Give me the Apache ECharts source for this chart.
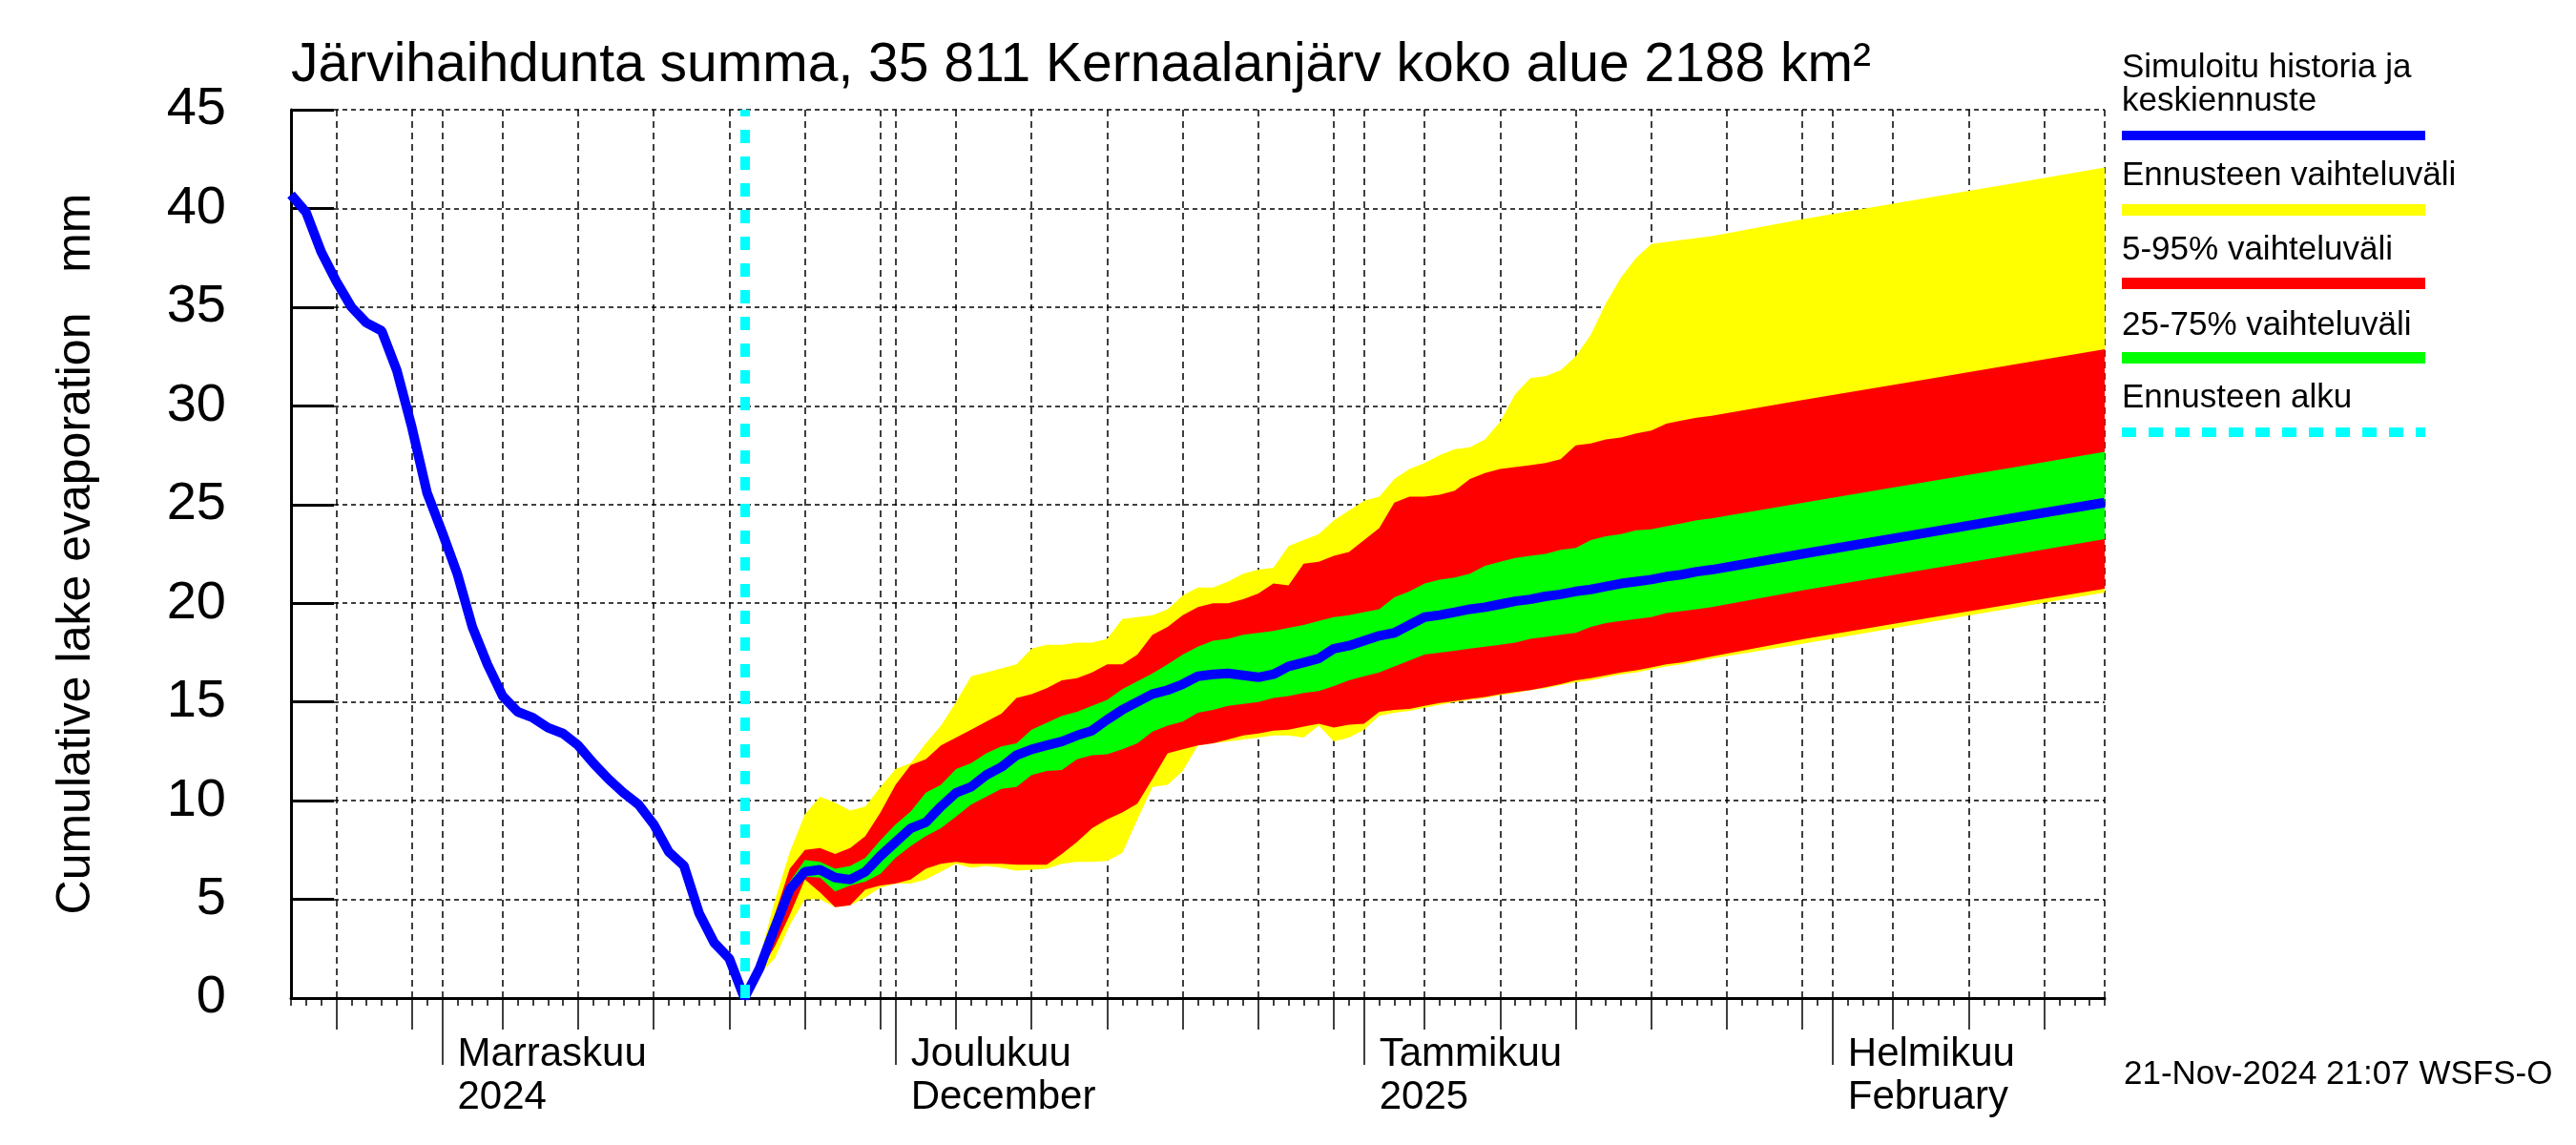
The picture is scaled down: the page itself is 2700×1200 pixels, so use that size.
<!DOCTYPE html>
<html><head><meta charset="utf-8">
<script src="https://cdn.jsdelivr.net/npm/echarts@6/dist/echarts.min.js"></script>
<style>html,body{margin:0;padding:0;background:#fff}#c{width:2700px;height:1200px}</style>
</head><body><div id="c"></div>
<script>
// ---------- texts ----------
const titleText = 'Järvihaihdunta summa, 35 811 Kernaalanjärv koko alue 2188 km²';
const yAxisName = 'Cumulative lake evaporation   mm';
const stampText = '21-Nov-2024 21:07 WSFS-O';
const legendTexts = ['Simuloitu historia ja\nkeskiennuste', 'Ennusteen vaihteluväli', '5-95% vaihteluväli', '25-75% vaihteluväli', 'Ennusteen alku'];

// ---------- axes ----------
const axisStart = '2024-10-22';
const axisEnd = '2025-02-19';
const monthLabels = {
  '2024-11-01': 'Marraskuu\n2024',
  '2024-12-01': 'Joulukuu\nDecember',
  '2025-01-01': 'Tammikuu\n2025',
  '2025-02-01': 'Helmikuu\nFebruary'
};
const gridDays = [1, 5, 10, 15, 20, 25, 30];
const yMin = 0, yMax = 45, yStep = 5;

// ---------- history (daily from histStart) ----------
const histStart = '2024-10-22';
const histValues = [40.7, 39.8, 37.8, 36.3, 35.0, 34.2, 33.8, 31.8, 28.9, 25.6,
  23.6, 21.5, 18.8, 16.9, 15.3, 14.5, 14.2, 13.7, 13.4, 12.8,
  11.9, 11.1, 10.4, 9.8, 8.8, 7.4, 6.7, 4.3, 2.8, 2.0, 0];

// ---------- forecast: daily values from forecastStart, then tail dates ----------
const forecastStart = '2024-11-21';
const forecastDailyCount = 65;
const forecastTailDates = ['2025-01-30', '2025-02-06', '2025-02-13', '2025-02-19'];

const fcMedian = [0, 1.5, 3.55, 5.5, 6.4, 6.5, 6.1, 6.0, 6.4, 7.2,
  7.9, 8.6, 8.9, 9.7, 10.4, 10.7, 11.3, 11.7, 12.3, 12.6,
  12.8, 13.0, 13.3, 13.55, 14.1, 14.6, 15.0, 15.4, 15.6, 15.9,
  16.3, 16.4, 16.45, 16.35, 16.25, 16.4, 16.8, 17.0, 17.2, 17.7,
  17.85, 18.1, 18.35, 18.5, 18.9, 19.3, 19.4, 19.55, 19.7, 19.8,
  19.95, 20.1, 20.2, 20.35, 20.45, 20.6, 20.7, 20.85, 21.0, 21.1,
  21.2, 21.35, 21.45, 21.6, 21.7,
  22.5, 23.41, 24.33, 25.1];

const fcMaxHigh = [0, 2.0, 4.9, 7.4, 9.3, 10.2, 9.9, 9.5, 9.7, 10.7,
  11.6, 11.9, 12.9, 13.8, 15.0, 16.3, 16.5, 16.7, 16.9, 17.7,
  17.9, 17.9, 18.0, 18.0, 18.2, 19.2, 19.3, 19.4, 19.7, 20.4,
  20.8, 20.8, 21.1, 21.5, 21.7, 21.8, 22.9, 23.2, 23.5, 24.2,
  24.7, 25.2, 25.4, 26.3, 26.8, 27.1, 27.5, 27.8, 27.9, 28.3,
  29.2, 30.6, 31.4, 31.5, 31.8, 32.5, 33.6, 35.2, 36.5, 37.5,
  38.2, 38.3, 38.4, 38.5, 38.6,
  39.45, 40.37, 41.28, 42.07];

const fcMinLow = [0, 1.2, 2.0, 3.7, 5.0, 5.0, 4.6, 4.7, 5.1, 5.6,
  5.8, 5.8, 6.0, 6.4, 6.8, 6.6, 6.7, 6.6, 6.45, 6.5,
  6.55, 6.8, 6.9, 6.9, 6.95, 7.35, 9.05, 10.7, 10.8, 11.5,
  12.8, 12.9, 13.0, 13.1, 13.2, 13.3, 13.3, 13.2, 13.8, 13.0,
  13.2, 13.6, 14.3, 14.45, 14.55, 14.7, 14.85, 15.0, 15.1, 15.2,
  15.35, 15.45, 15.6, 15.7, 15.85, 16.0, 16.1, 16.25, 16.4, 16.5,
  16.65, 16.8, 16.9, 17.05, 17.2,
  17.95, 18.86, 19.77, 20.54];

const fcP95 = [0, 1.6, 4.2, 6.55, 7.5, 7.6, 7.3, 7.6, 8.2, 9.4,
  10.8, 11.8, 12.1, 12.8, 13.2, 13.6, 14.0, 14.4, 15.2, 15.4,
  15.7, 16.1, 16.2, 16.5, 16.9, 16.9, 17.4, 18.4, 18.8, 19.4,
  19.8, 20.0, 20.0, 20.2, 20.5, 21.0, 20.9, 22.0, 22.1, 22.4,
  22.6, 23.2, 23.8, 25.1, 25.4, 25.4, 25.5, 25.7, 26.3, 26.6,
  26.8, 26.9, 27.0, 27.1, 27.3, 28.0, 28.1, 28.3, 28.4, 28.6,
  28.75, 29.1, 29.25, 29.4, 29.5,
  30.29, 31.19, 32.09, 32.87];

const fcP5 = [0, 1.3, 2.6, 4.2, 6.0, 5.35, 4.6, 4.7, 5.5, 5.7,
  5.8, 6.0, 6.55, 6.8, 6.9, 6.8, 6.8, 6.8, 6.75, 6.75,
  6.75, 7.3, 7.9, 8.6, 9.05, 9.4, 9.85, 11.1, 12.4, 12.6,
  12.8, 12.9, 13.1, 13.3, 13.4, 13.55, 13.6, 13.75, 13.9, 13.7,
  13.85, 13.9, 14.5, 14.6, 14.65, 14.8, 14.95, 15.05, 15.15, 15.25,
  15.4, 15.5, 15.6, 15.75, 15.9, 16.1, 16.2, 16.35, 16.5, 16.6,
  16.75, 16.9, 17.0, 17.15, 17.3,
  18.18, 19.08, 19.97, 20.74];

const fcP75 = [0, 1.6, 4.0, 5.9, 7.0, 6.9, 6.55, 6.7, 7.1, 8.0,
  8.8, 9.45, 10.4, 10.8, 11.6, 11.9, 12.4, 12.75, 12.9, 13.6,
  13.95, 14.3, 14.5, 14.8, 15.1, 15.65, 16.05, 16.45, 16.9, 17.4,
  17.8, 18.1, 18.2, 18.4, 18.5, 18.6, 18.75, 18.9, 19.1, 19.3,
  19.4, 19.55, 19.7, 20.3, 20.6, 21.0, 21.2, 21.3, 21.5, 21.9,
  22.1, 22.3, 22.4, 22.5, 22.7, 22.8, 23.2, 23.4, 23.5, 23.7,
  23.75, 23.9, 24.05, 24.2, 24.3,
  25.08, 25.99, 26.89, 27.67];

const fcP25 = [0, 1.4, 3.3, 5.1, 6.15, 6.1, 5.4, 5.7, 5.9, 6.3,
  7.1, 7.7, 8.2, 8.6, 9.2, 9.8, 10.2, 10.6, 10.7, 11.3,
  11.5, 11.55, 12.1, 12.3, 12.35, 12.6, 12.9, 13.5, 13.8, 14.0,
  14.45, 14.6, 14.8, 14.9, 15.0, 15.2, 15.3, 15.45, 15.55, 15.8,
  16.1, 16.3, 16.5, 16.8, 17.1, 17.4, 17.5, 17.6, 17.7, 17.8,
  17.9, 18.0, 18.2, 18.3, 18.4, 18.5, 18.8, 19.0, 19.1, 19.2,
  19.3, 19.5, 19.6, 19.7, 19.8,
  20.65, 21.56, 22.46, 23.25];

// ---------- colours ----------
const colBlue = '#0000FF', colYellow = '#FFFF00', colRed = '#FF0000', colGreen = '#00FF00', colCyan = '#00FFFF';
const FONT = '"Liberation Sans", Arial, Helvetica, sans-serif';

// ---------- helpers ----------
function addDays(s, n) {
  const d = new Date(s + 'T00:00:00Z');
  d.setUTCDate(d.getUTCDate() + n);
  return d.toISOString().slice(0, 10);
}
const categories = [];
for (let s = axisStart; s <= axisEnd; s = addDays(s, 1)) categories.push(s);
const lastCat = categories[categories.length - 1];

const histDates = histValues.map((_, i) => addDays(histStart, i));
const fcDates = [];
for (let i = 0; i < forecastDailyCount; i++) fcDates.push(addDays(forecastStart, i));
forecastTailDates.forEach(d => fcDates.push(d));

const pairs = (dates, vals) => dates.map((d, i) => [d, vals[i]]);
const diffPairs = (dates, hi, lo) => dates.map((d, i) => [d, +(hi[i] - lo[i]).toFixed(3)]);

const medianLine = pairs(histDates, histValues).concat(
  pairs(fcDates, fcMedian).filter(p => !histDates.includes(p[0])));

function bandBase(stack, lo) {
  return { type: 'line', stack, data: pairs(fcDates, lo), symbol: 'none', silent: true,
    lineStyle: { width: 0, opacity: 0 }, z: 2 };
}
function bandFill(stack, hi, lo, color) {
  return { type: 'line', stack, data: diffPairs(fcDates, hi, lo), symbol: 'none', silent: true,
    lineStyle: { width: 0, opacity: 0 }, areaStyle: { color, opacity: 1 }, z: 2 };
}

const dayOf = v => +String(v).slice(8, 10);
const isMonthStart = v => dayOf(v) === 1;
const isGridDay = v => gridDays.includes(dayOf(v));

const baseX = { type: 'category', data: categories, boundaryGap: false, position: 'bottom', gridIndex: 0 };

// ---------- legend graphics ----------
const LX = 2224, LW = 318, LFS = 35;
const legendGraphic = [
  { type: 'text', style: { text: legendTexts[0], x: LX, y: 54, font: `${LFS}px ${FONT}`, fill: '#000', lineHeight: 35, verticalAlign: 'top' } },
  { type: 'line', shape: { x1: LX, y1: 142, x2: LX + LW, y2: 142 }, style: { stroke: colBlue, lineWidth: 10 } },
  { type: 'text', style: { text: legendTexts[1], x: LX, y: 184, font: `${LFS}px ${FONT}`, fill: '#000', verticalAlign: 'middle' } },
  { type: 'line', shape: { x1: LX, y1: 220, x2: LX + LW, y2: 220 }, style: { stroke: colYellow, lineWidth: 12 } },
  { type: 'text', style: { text: legendTexts[2], x: LX, y: 262, font: `${LFS}px ${FONT}`, fill: '#000', verticalAlign: 'middle' } },
  { type: 'line', shape: { x1: LX, y1: 297, x2: LX + LW, y2: 297 }, style: { stroke: colRed, lineWidth: 12 } },
  { type: 'text', style: { text: legendTexts[3], x: LX, y: 341, font: `${LFS}px ${FONT}`, fill: '#000', verticalAlign: 'middle' } },
  { type: 'line', shape: { x1: LX, y1: 375, x2: LX + LW, y2: 375 }, style: { stroke: colGreen, lineWidth: 12 } },
  { type: 'text', style: { text: legendTexts[4], x: LX, y: 417, font: `${LFS}px ${FONT}`, fill: '#000', verticalAlign: 'middle' } },
  { type: 'line', shape: { x1: LX, y1: 453, x2: LX + LW, y2: 453 }, style: { stroke: colCyan, lineWidth: 10, lineDash: [15, 13] } },
  { type: 'text', style: { text: titleText, x: 305, y: 69, font: `57px ${FONT}`, fill: '#000', verticalAlign: 'middle' } },
  { type: 'text', style: { text: stampText, x: 2226, y: 1126, font: `35px ${FONT}`, fill: '#000', verticalAlign: 'middle' } }
];

const option = {
  animation: false,
  backgroundColor: '#ffffff',
  textStyle: { fontFamily: FONT },
  grid: { left: 305, right: 494, top: 115, bottom: 154, containLabel: false },
  xAxis: [
    Object.assign({}, baseX, {
      axisLine: { show: true, lineStyle: { color: '#000', width: 3 } },
      axisTick: { show: true, interval: 0, length: 8, lineStyle: { color: '#000', width: 1.5 } },
      axisLabel: { show: false },
      splitLine: { show: true, interval: (i, v) => isGridDay(v) || v === lastCat,
        lineStyle: { color: '#000', width: 1.5, type: [7, 5] } }
    }),
    Object.assign({}, baseX, {
      axisLine: { show: false },
      axisTick: { show: true, interval: (i, v) => isGridDay(v) && !isMonthStart(v), length: 33, lineStyle: { color: '#000', width: 1.5 } },
      axisLabel: { show: false }, splitLine: { show: false }
    }),
    Object.assign({}, baseX, {
      axisLine: { show: false },
      axisTick: { show: true, interval: (i, v) => isMonthStart(v), length: 70, lineStyle: { color: '#000', width: 1.5 } },
      axisLabel: { show: true, interval: (i, v) => isMonthStart(v), formatter: v => monthLabels[v] || '',
        align: 'left', padding: [0, 0, 0, 16], margin: 37, fontSize: 42, lineHeight: 45, color: '#000', fontFamily: FONT },
      splitLine: { show: false }
    })
  ],
  yAxis: {
    type: 'value', min: yMin, max: yMax, interval: yStep,
    name: yAxisName, nameLocation: 'middle', nameGap: 200,
    nameTextStyle: { fontSize: 50, color: '#000', fontFamily: FONT },
    axisLine: { show: true, lineStyle: { color: '#000', width: 3 } },
    axisTick: { show: true, inside: true, length: 45, lineStyle: { color: '#000', width: 3 } },
    axisLabel: { fontSize: 56, color: '#000', margin: 68, padding: [0, 0, 16, 0], fontFamily: FONT },
    splitLine: { show: true, lineStyle: { color: '#000', width: 1.5, type: [5, 4] } }
  },
  series: [
    bandBase('yellow', fcMinLow), bandFill('yellow', fcMaxHigh, fcMinLow, colYellow),
    bandBase('red', fcP5), bandFill('red', fcP95, fcP5, colRed),
    bandBase('green', fcP25), bandFill('green', fcP75, fcP25, colGreen),
    {
      type: 'line', data: medianLine, symbol: 'none', z: 3,
      lineStyle: { color: colBlue, width: 10 },
      markLine: {
        silent: true, symbol: 'none', label: { show: false },
        lineStyle: { color: colCyan, width: 10, type: [14, 14] },
        data: [[{ coord: [forecastStart, yMin] }, { coord: [forecastStart, yMax] }]]
      }
    }
  ],
  graphic: legendGraphic
};

const chart = echarts.init(document.getElementById('c'), null, { renderer: 'canvas' });
chart.setOption(option);
</script>
</body></html>
